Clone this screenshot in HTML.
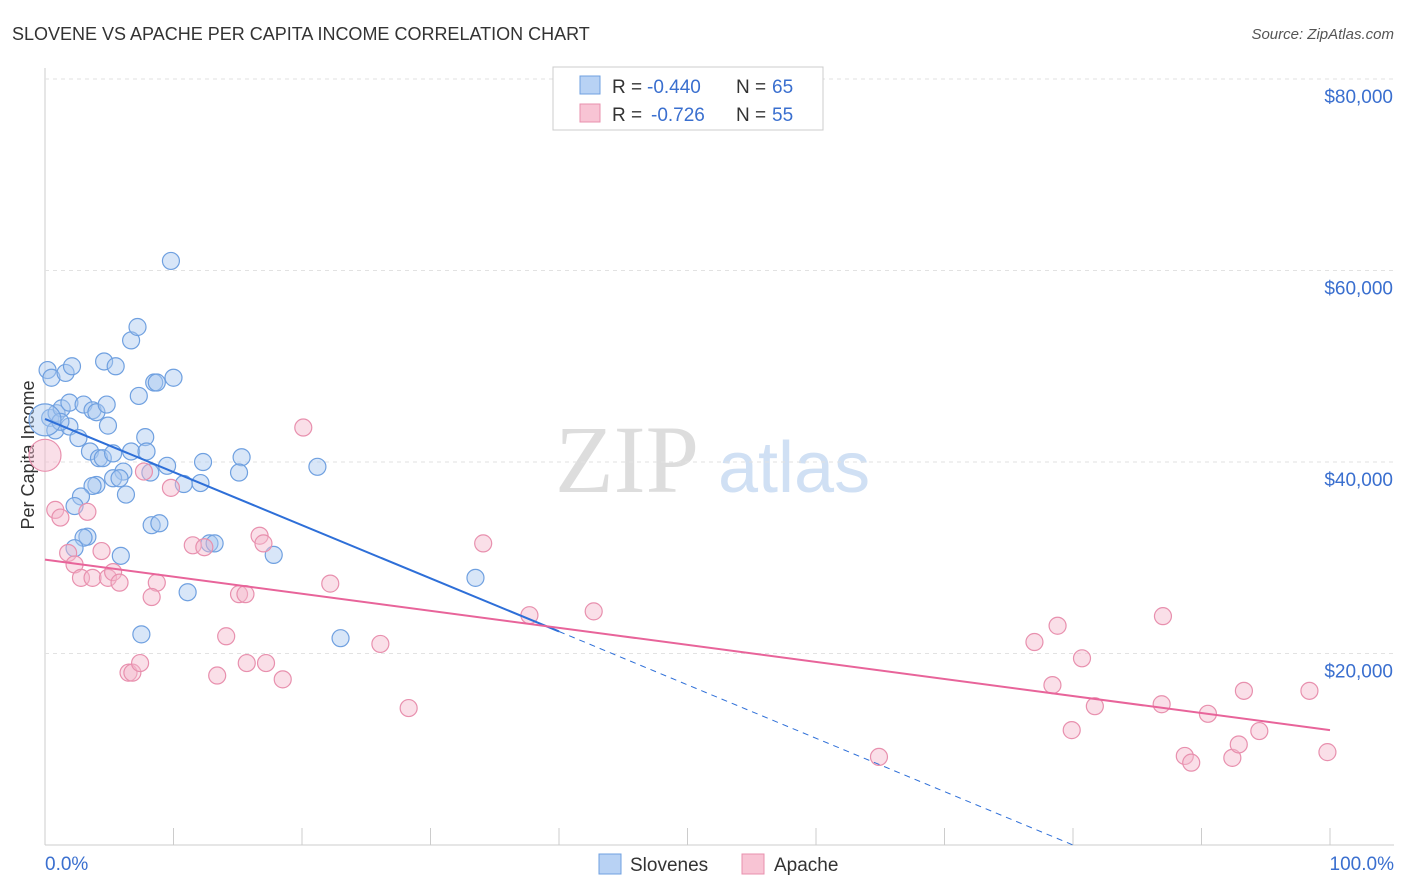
<!DOCTYPE html>
<html><head><meta charset="utf-8">
<style>
body{margin:0;background:#fff;font-family:"Liberation Sans",sans-serif;}
#wrap{position:relative;width:1406px;height:892px;overflow:hidden;}
</style></head>
<body>
<div id="wrap">
<svg id="chart" width="1406" height="892">
<text x="12" y="40" font-size="18" fill="#333">SLOVENE VS APACHE PER CAPITA INCOME CORRELATION CHART</text>
<text x="1394" y="39" font-size="15" fill="#555" text-anchor="end" font-style="italic">Source: ZipAtlas.com</text>
<text x="555" y="492" font-size="96" fill="#ddd" font-family="Liberation Serif">ZIP</text>
<text x="718" y="492" font-size="72" fill="#d0e0f4">atlas</text>
<text x="34" y="455" font-size="18" fill="#333" text-anchor="middle" transform="rotate(-90 34 455)">Per Capita Income</text>
<g id="grid"></g><g id="marks"></g>
<g>
<rect x="553" y="67" width="270" height="63" fill="#fff" stroke="#ccc"/>
<rect x="580" y="76" width="20" height="18" fill="#b8d2f4" stroke="#6fa0e0"/>
<text y="93" font-size="19" fill="#333"><tspan x="612">R =</tspan><tspan x="647" fill="#3a6fcf">-0.440</tspan><tspan x="736">N =</tspan><tspan x="772" fill="#3a6fcf">65</tspan></text>
<rect x="580" y="104" width="20" height="18" fill="#f8c4d4" stroke="#e890ae"/>
<text y="121" font-size="19" fill="#333"><tspan x="612">R =</tspan><tspan x="651" fill="#3a6fcf">-0.726</tspan><tspan x="736">N =</tspan><tspan x="772" fill="#3a6fcf">55</tspan></text>
</g>
<g>
<rect x="599" y="854" width="22" height="20" fill="#b8d2f4" stroke="#6fa0e0"/>
<text x="630" y="871" font-size="19" fill="#333">Slovenes</text>
<rect x="742" y="854" width="22" height="20" fill="#f8c4d4" stroke="#e890ae"/>
<text x="774" y="871" font-size="19" fill="#333">Apache</text>
</g>
<text x="45" y="870" font-size="19" fill="#3a6fcf">0.0%</text>
<text x="1394" y="870" font-size="19" fill="#3a6fcf" text-anchor="end">100.0%</text>
</svg>
</div>
<script>
const yTicks=[20000,40000,60000,80000];
const yTickLabels=["$20,000","$40,000","$60,000","$80,000"];
const xTicks=[0,10,20,30,40,50,60,70,80,90,100];
const bluePct=[0.2,0.5,1.6,2.1,4.6,5.5,6.7,7.2,9.8,8.5,8.7,10.0,7.3,0.4,0.9,1.3,1.9,3.0,3.7,4.0,4.8,0.8,1.9,2.6,4.9,7.8,3.5,4.2,4.5,5.3,6.7,7.9,9.5,12.3,15.3,21.2,15.1,6.1,5.3,5.8,8.2,4.0,3.7,2.8,6.3,10.8,12.1,2.3,8.3,8.9,3.3,3.0,2.3,5.9,12.8,13.2,17.8,11.1,33.5,7.5,23.0,1.2,0];
const blueVal=[49.6,48.8,49.3,50.0,50.5,50.0,52.7,54.1,61.0,48.3,48.3,48.8,46.9,44.6,45.1,45.6,46.2,46.0,45.4,45.2,46.0,43.3,43.7,42.5,43.8,42.6,41.1,40.4,40.4,40.9,41.1,41.1,39.6,40.0,40.5,39.5,38.9,39.0,38.3,38.3,38.9,37.6,37.5,36.4,36.6,37.7,37.8,35.4,33.4,33.6,32.2,32.1,31.0,30.2,31.5,31.5,30.3,26.4,27.9,22.0,21.6,44.2,44.4];
const pinkPct=[0,0.8,1.2,3.3,1.8,2.3,2.8,3.7,4.4,4.9,5.3,5.8,8.7,8.3,7.7,9.8,11.5,12.4,16.7,17.0,15.1,15.6,22.2,14.1,6.5,6.8,7.4,13.4,15.7,17.2,18.5,20.1,34.1,28.3,26.1,37.7,42.7,64.9,77.0,78.8,78.4,79.9,80.7,81.7,87.0,86.9,88.7,89.2,90.5,92.4,92.9,93.3,94.5,98.4,99.8];
const pinkVal=[40.7,35.0,34.2,34.8,30.5,29.3,27.9,27.9,30.7,27.9,28.5,27.4,27.4,25.9,39.0,37.3,31.3,31.1,32.3,31.5,26.2,26.2,27.3,21.8,18.0,18.0,19.0,17.7,19.0,19.0,17.3,43.6,31.5,14.3,21.0,24.0,24.4,9.2,21.2,22.9,16.7,12.0,19.5,14.5,23.9,14.7,9.3,8.6,13.7,9.1,10.5,16.1,11.9,16.1,9.7];
const blueTrend=[[0,44.5],[40,22.3],[80,0]];
const pinkTrend=[[0,29.8],[100,12.0]];
const NS="http://www.w3.org/2000/svg";
const X=p=>45+p*12.85, Y=v=>845-v/104.44;
function mk(t,a,parent){const e=document.createElementNS(NS,t);for(const k in a)e.setAttribute(k,a[k]);parent.appendChild(e);return e;}
const grid=document.getElementById('grid'), marks=document.getElementById('marks');
let ax=mk('line',{x1:45,y1:68,x2:45,y2:845,stroke:'#ccc'},grid);


let bx=mk('line',{x1:45,y1:845,x2:1394,y2:845,stroke:'#ccc'},grid);


yTicks.forEach((v,i)=>{
 const g=mk('line',{x1:45,y1:Y(v),x2:1394,y2:Y(v),stroke:'#e2e2e2','stroke-dasharray':'4,4'},grid);
 
 
 const t=mk('text',{x:1393,y:Y(v)+24,'font-size':19,fill:'#3a6fcf','text-anchor':'end'},grid);
 t.textContent=yTickLabels[i];
 
 
});
xTicks.forEach(p=>{
 const t=mk('line',{x1:X(p),y1:828,x2:X(p),y2:845,stroke:'#ccc'},grid);
 
 
});
function dot(p,v,fill,stroke,name,r){
 const c=mk('circle',{cx:X(p),cy:Y(v*1000),r:r,fill:fill,'fill-opacity':0.45,stroke:stroke,'stroke-width':1.2},marks);
 
 
}
bluePct.forEach((p,i)=>dot(p,blueVal[i],'#a8c8f0','#6fa0e0','slovene-point',p===0?16:8.5));
pinkPct.forEach((p,i)=>dot(p,pinkVal[i],'#f5b8cb','#e890ae','apache-point',p===0?16:8.5));
let bl=mk('line',{x1:X(blueTrend[0][0]),y1:Y(blueTrend[0][1]*1000),x2:X(blueTrend[1][0]),y2:Y(blueTrend[1][1]*1000),stroke:'#2e6fd8','stroke-width':2},marks);


let bd=mk('line',{x1:X(blueTrend[1][0]),y1:Y(blueTrend[1][1]*1000),x2:X(blueTrend[2][0]),y2:Y(blueTrend[2][1]*1000),stroke:'#2e6fd8','stroke-width':1,'stroke-dasharray':'6,5'},marks);


let pl=mk('line',{x1:X(pinkTrend[0][0]),y1:Y(pinkTrend[0][1]*1000),x2:X(pinkTrend[1][0]),y2:Y(pinkTrend[1][1]*1000),stroke:'#e8649a','stroke-width':2},marks);


</script>
</body></html>
